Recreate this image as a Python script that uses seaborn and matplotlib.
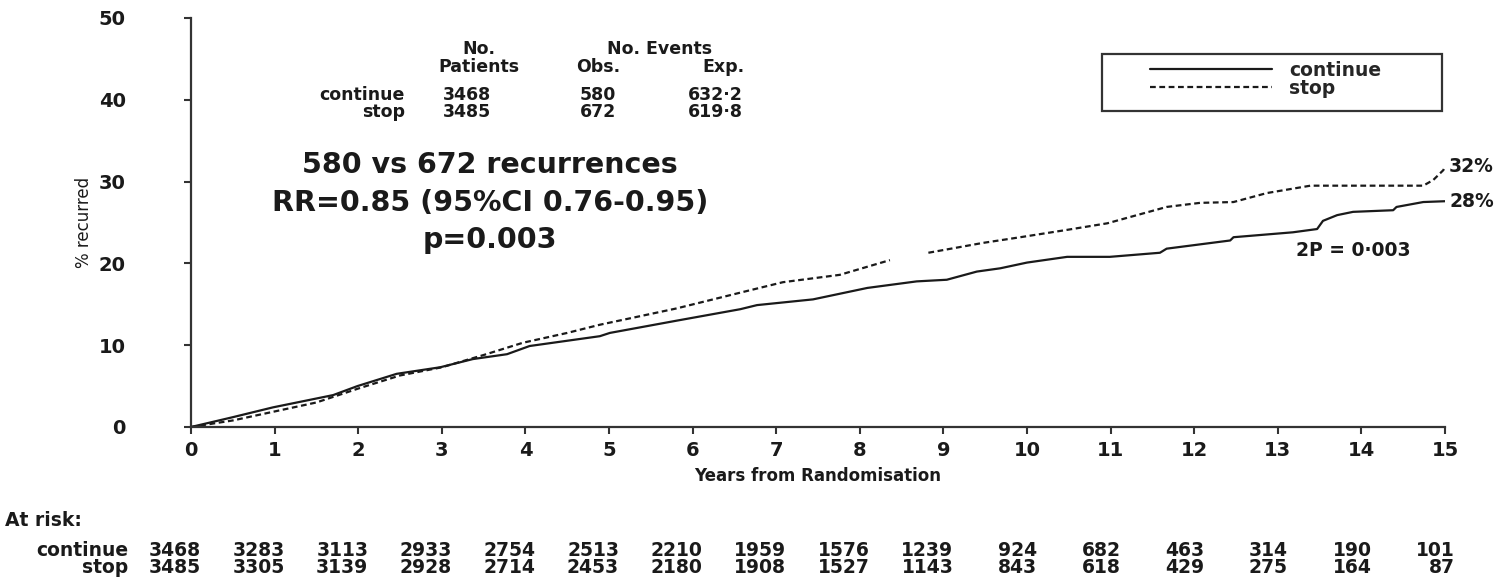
import matplotlib
matplotlib.use("Agg")
import matplotlib.pyplot as plt
import matplotlib.transforms as mtransforms
from matplotlib.patches import Rectangle
import pandas as pd
import seaborn as sns

# curves: years from randomisation, % recurred
continue_years = [0, 0.5, 0.98, 1.7, 1.99, 2.46, 2.98, 3.37, 3.78, 4.05, 4.89, 5.01, 5.81, 6.57, 6.77,
                  7.44, 8.09, 8.68, 9.04, 9.40, 9.68, 10.0, 10.48, 10.99, 11.59, 11.67, 12.43, 12.47,
                  13.18, 13.47, 13.54, 13.71, 13.9, 14.38, 14.42, 14.74, 15.0]
continue_pct = [0, 1.2, 2.4, 3.9, 5.0, 6.5, 7.3, 8.3, 8.9, 9.9, 11.1, 11.5, 13.0, 14.4, 14.9,
                15.6, 17.0, 17.8, 18.0, 19.0, 19.4, 20.1, 20.8, 20.8, 21.3, 21.8, 22.8, 23.2,
                23.8, 24.2, 25.2, 25.9, 26.3, 26.5, 26.9, 27.5, 27.6]
# the dashed curve has a short gap around year 8.5
stop_years_a = [0, 0.5, 1.0, 1.5, 2.0, 2.5, 3.0, 3.5, 3.97, 4.5, 4.89, 5.81, 6.6, 7.08, 7.76, 8.36]
stop_pct_a = [0, 0.8, 1.9, 3.0, 4.7, 6.3, 7.3, 8.8, 10.3, 11.5, 12.5, 14.5, 16.5, 17.7, 18.6, 20.4]
stop_years_b = [8.82, 9.47, 9.92, 10.48, 10.96, 11.67, 12.07, 12.47, 12.87, 13.39, 14.74, 14.86, 14.98, 15.0]
stop_pct_b = [21.3, 22.5, 23.2, 24.1, 24.9, 26.9, 27.4, 27.5, 28.6, 29.5, 29.5, 30.2, 31.4, 31.9]

arms = ["continue", "stop"]
n_patients = [3468, 3485]
obs_events = [580, 672]
exp_events = ["632·2", "619·8"]
final_pct = ["28%", "32%"]

risk_years = list(range(16))
risk_continue = [3468, 3283, 3113, 2933, 2754, 2513, 2210, 1959, 1576, 1239, 924, 682, 463, 314, 190, 101]
risk_stop = [3485, 3305, 3139, 2928, 2714, 2453, 2180, 1908, 1527, 1143, 843, 618, 429, 275, 164, 87]

df = pd.concat([
    pd.DataFrame({"year": continue_years, "pct": continue_pct, "arm": "continue", "seg": 0}),
    pd.DataFrame({"year": stop_years_a, "pct": stop_pct_a, "arm": "stop", "seg": 1}),
    pd.DataFrame({"year": stop_years_b, "pct": stop_pct_b, "arm": "stop", "seg": 2}),
], ignore_index=True)

sns.set_style("ticks")
plt.rcParams["font.family"] = ["DejaVu Sans"]
plt.rcParams["font.weight"] = "bold"
ink = "#1a1a1a"

fig, ax = plt.subplots(figsize=(15.09, 5.8), dpi=100)
fig.subplots_adjust(left=0.1266, right=0.9576, bottom=0.2638, top=0.969)

sns.lineplot(data=df, x="year", y="pct", hue="arm", style="arm", units="seg", estimator=None,
             sort=False, palette={"continue": ink, "stop": ink},
             dashes={"continue": "", "stop": (2.6, 1.6)}, linewidth=1.6, ax=ax)

ax.set_xlim(0, 15)
ax.set_ylim(0, 50)
ax.set_xticks(range(0, 16))
ax.set_yticks(range(0, 51, 10))
sns.despine(ax=ax)
for side in ["left", "bottom"]:
    ax.spines[side].set_linewidth(1.6)
    ax.spines[side].set_color("#333333")
ax.tick_params(axis="both", length=5, width=1.5, color="#333333", labelsize=14, labelcolor=ink)
ax.tick_params(axis="y", pad=42)
ax.tick_params(axis="x", pad=5)
ax.set_xlabel("Years from Randomisation", fontsize=12, fontweight="bold", labelpad=5, color=ink)
ax.set_ylabel("% recurred", fontsize=12, fontweight="normal", labelpad=4, color=ink)

# legend with a separate box
leg = ax.get_legend()
handles = leg.legend_handles
labels = [t.get_text() for t in leg.get_texts()]
leg.remove()
ax.legend(handles, labels, loc="upper left", bbox_to_anchor=(0.7648, 0.895), frameon=False,
          fontsize=13.5, handlelength=6.5, handletextpad=0.9, labelspacing=-0.05, borderpad=0,
          borderaxespad=0)
ax.add_patch(Rectangle((0.7265, 0.7726), 0.2711, 0.1394, transform=ax.transAxes, fill=False,
                       edgecolor="#333333", linewidth=1.6, clip_on=False))

# end-of-curve labels
ax.annotate(final_pct[0], xy=(continue_years[-1], continue_pct[-1]), xytext=(3, 0),
            textcoords="offset points", va="center", ha="left", fontsize=13.5, color=ink,
            annotation_clip=False)
ax.annotate(final_pct[1], xy=(stop_years_b[-1], stop_pct_b[-1]), xytext=(3, 0),
            textcoords="offset points", va="center", ha="left", fontsize=13.5, color=ink,
            annotation_clip=False)
ax.text(13.9, 21.6, "2P = 0·003", ha="center", va="center", fontsize=13.5, color=ink)

# headline text
ax.text(3.58, 32.0, f"{obs_events[0]} vs {obs_events[1]} recurrences", ha="center", va="center",
        fontsize=20.5, color=ink)
ax.text(3.58, 27.4, "RR=0.85 (95%CI 0.76-0.95)", ha="center", va="center", fontsize=20.5, color=ink)
ax.text(3.58, 22.9, "p=0.003", ha="center", va="center", fontsize=20.5, color=ink)

# events table
tfs = 12.5
ax.text(3.44, 46.2, "No.", ha="center", va="center", fontsize=tfs, color=ink)
ax.text(3.44, 44.0, "Patients", ha="center", va="center", fontsize=tfs, color=ink)
ax.text(5.61, 46.2, "No. Events", ha="center", va="center", fontsize=tfs, color=ink)
ax.text(4.87, 44.0, "Obs.", ha="center", va="center", fontsize=tfs, color=ink)
ax.text(6.62, 44.0, "Exp.", ha="right", va="center", fontsize=tfs, color=ink)
for i, y in enumerate([40.6, 38.5]):
    ax.text(2.56, y, arms[i], ha="right", va="center", fontsize=tfs, color=ink)
    ax.text(3.30, y, str(n_patients[i]), ha="center", va="center", fontsize=tfs, color=ink)
    ax.text(4.87, y, str(obs_events[i]), ha="center", va="center", fontsize=tfs, color=ink)
    ax.text(6.60, y, exp_events[i], ha="right", va="center", fontsize=tfs, color=ink)

# numbers at risk below the axis
rfs = 13.5
blend = mtransforms.blended_transform_factory(ax.transData, fig.transFigure)
fig.text(0.003, 0.1034, "At risk:", ha="left", va="center", fontsize=rfs, color=ink)
for y, name, counts in [(0.0517, "continue", risk_continue), (0.0207, "stop", risk_stop)]:
    fig.text(0.0848, y, name, ha="right", va="center", fontsize=rfs, color=ink)
    for yr, n in zip(risk_years, counts):
        ax.text(yr + 0.12, y, str(n), transform=blend, ha="right", va="center",
                fontsize=rfs, color=ink, clip_on=False)

fig.savefig("out.png", dpi=100)
